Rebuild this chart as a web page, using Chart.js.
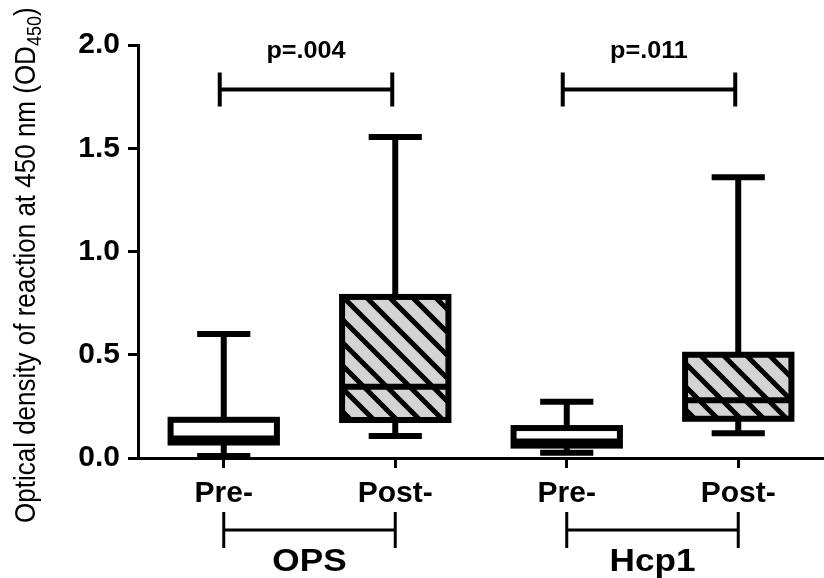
<!DOCTYPE html>
<html>
<head>
<meta charset="utf-8">
<script src="https://cdn.jsdelivr.net/npm/chart.js@4.4.1/dist/chart.umd.min.js"></script>
<style>
html, body { margin: 0; padding: 0; background: #fff; }
#wrap { width: 824px; height: 578px; position: relative; }
</style>
</head>
<body>
<div id="wrap"><canvas id="boxChart"></canvas></div>
<script>
// box plot values
const categories = ['Pre-', 'Post-', 'Pre-', 'Post-'];
const groups = ['OPS', 'Hcp1'];
const pLabels = ['p=.004', 'p=.011'];
const whiskerMin = [0.01, 0.107, 0.026, 0.12];
const q1 = [0.075, 0.184, 0.06, 0.19];
const median = [0.095, 0.345, 0.08, 0.28];
const q3 = [0.185, 0.78, 0.145, 0.5];
const whiskerMax = [0.6, 1.555, 0.273, 1.36];
const yTicks = [0, 0.5, 1.0, 1.5, 2.0];

const FONT = '"Liberation Sans", Arial, Helvetica, sans-serif';

function makeHatch() {
    const size = 23;
    const c = document.createElement('canvas');
    c.width = size;
    c.height = size;
    const g = c.getContext('2d');
    g.fillStyle = '#d4d4d4';
    g.fillRect(0, 0, size, size);
    g.strokeStyle = '#000';
    g.lineWidth = 5;
    g.beginPath();
    for (let o = -size; o <= size; o += size) {
        g.moveTo(o - 2, -2);
        g.lineTo(o + size + 2, size + 2);
    }
    g.stroke();
    return g.createPattern(c, 'repeat');
}
const hatch = makeHatch();

// text a bit wider than the font draws it, like the original figure
function wideText(ctx, txt, x, y, sx) {
    ctx.save();
    ctx.translate(x, y);
    ctx.scale(sx, 1);
    ctx.fillText(txt, 0, 0);
    ctx.restore();
}

// whiskers, box outlines, medians, brackets and the rotated axis title
const boxPlugin = {
    id: 'boxPlugin',
    afterDatasetsDraw(chart) {
        const ctx = chart.ctx;
        const y = chart.scales.y;
        const meta = chart.getDatasetMeta(0);
        ctx.save();
        ctx.strokeStyle = '#000';
        ctx.lineWidth = 6;
        ctx.lineCap = 'butt';
        meta.data.forEach((bar, i) => {
            const cx = bar.x;
            const half = bar.width / 2;
            const capHalf = bar.width / 4;
            const yMin = y.getPixelForValue(whiskerMin[i]);
            const yQ1 = y.getPixelForValue(q1[i]);
            const yMed = y.getPixelForValue(median[i]);
            const yQ3 = y.getPixelForValue(q3[i]);
            const yMax = y.getPixelForValue(whiskerMax[i]);
            ctx.beginPath();
            ctx.moveTo(cx, yQ3); ctx.lineTo(cx, yMax);
            ctx.moveTo(cx - capHalf, yMax); ctx.lineTo(cx + capHalf, yMax);
            ctx.moveTo(cx, yQ1); ctx.lineTo(cx, yMin);
            ctx.moveTo(cx - capHalf, yMin); ctx.lineTo(cx + capHalf, yMin);
            ctx.moveTo(cx - half, yMed); ctx.lineTo(cx + half, yMed);
            ctx.stroke();
            ctx.strokeRect(cx - half, yQ3, bar.width, yQ1 - yQ3);
        });

        // significance brackets above the pairs
        const sigY = y.getPixelForValue(1.785);
        ctx.lineWidth = 4;
        ctx.fillStyle = '#000';
        ctx.font = 'bold 24px ' + FONT;
        ctx.textAlign = 'center';
        ctx.textBaseline = 'middle';
        pLabels.forEach((txt, g) => {
            const x1 = meta.data[g * 2].x - 4;
            const x2 = meta.data[g * 2 + 1].x - 3;
            ctx.beginPath();
            ctx.moveTo(x1, sigY); ctx.lineTo(x2, sigY);
            ctx.moveTo(x1, sigY - 17); ctx.lineTo(x1, sigY + 17);
            ctx.moveTo(x2, sigY - 17); ctx.lineTo(x2, sigY + 17);
            ctx.stroke();
            wideText(ctx, txt, (x1 + x2) / 2, sigY - 38, 1.05);
        });

        // group brackets under the category labels
        const base = chart.chartArea.bottom;
        ctx.lineWidth = 3;
        ctx.font = 'bold 32px ' + FONT;
        groups.forEach((txt, g) => {
            const x1 = meta.data[g * 2].x;
            const x2 = meta.data[g * 2 + 1].x;
            const by = base + 72;
            ctx.beginPath();
            ctx.moveTo(x1, by); ctx.lineTo(x2, by);
            ctx.moveTo(x1, by - 18); ctx.lineTo(x1, by + 18);
            ctx.moveTo(x2, by - 18); ctx.lineTo(x2, by + 18);
            ctx.stroke();
            wideText(ctx, txt, (x1 + x2) / 2, base + 104, 1.1);
        });

        // y axis title with subscript
        ctx.translate(35, 523);
        ctx.rotate(-Math.PI / 2);
        ctx.textAlign = 'left';
        ctx.textBaseline = 'alphabetic';
        ctx.scale(1, 1.1);
        ctx.font = '26px ' + FONT;
        const main = 'Optical density of reaction at 450 nm (OD';
        ctx.fillText(main, 0, 0);
        let w = ctx.measureText(main).width;
        ctx.font = '18px ' + FONT;
        ctx.fillText('450', w, 5);
        w += ctx.measureText('450').width;
        ctx.font = '26px ' + FONT;
        ctx.fillText(')', w, 0);
        ctx.restore();
    }
};

const ctx = document.getElementById('boxChart').getContext('2d');
const boxChart = new Chart(ctx, {
    type: 'bar',
    data: {
        labels: categories,
        datasets: [{
            data: q1.map((v, i) => [v, q3[i]]),
            backgroundColor: ['#fff', hatch, '#fff', hatch],
            borderWidth: 0,
            barPercentage: 0.62,
            categoryPercentage: 1
        }]
    },
    options: {
        responsive: true,
        maintainAspectRatio: false,
        animation: false,
        layout: { padding: { top: 45, right: -3, bottom: 0, left: 0 } },
        plugins: {
            legend: { display: false },
            tooltip: { enabled: false }
        },
        scales: {
            x: {
                offset: true,
                grid: { display: true, drawOnChartArea: false, tickLength: 10, tickWidth: 3, tickColor: '#000', offset: false },
                border: { display: true, color: '#000', width: 3 },
                ticks: { color: '#000', font: { family: FONT, size: 30, weight: 'bold' }, padding: 8, maxRotation: 0 },
                afterFit(scale) { scale.height = 120; }
            },
            y: {
                min: 0,
                max: 2,
                afterBuildTicks(scale) { scale.ticks = yTicks.map(v => ({ value: v })); },
                grid: { display: true, drawOnChartArea: false, tickLength: 10, tickWidth: 3, tickColor: '#000' },
                border: { display: true, color: '#000', width: 3 },
                ticks: { color: '#000', font: { family: FONT, size: 30, weight: 'bold' }, padding: 8,
                    callback: v => Number(v).toFixed(1) },
                afterFit(scale) { scale.width = 138; }
            }
        }
    },
    plugins: [boxPlugin]
});
</script>
</body>
</html>
